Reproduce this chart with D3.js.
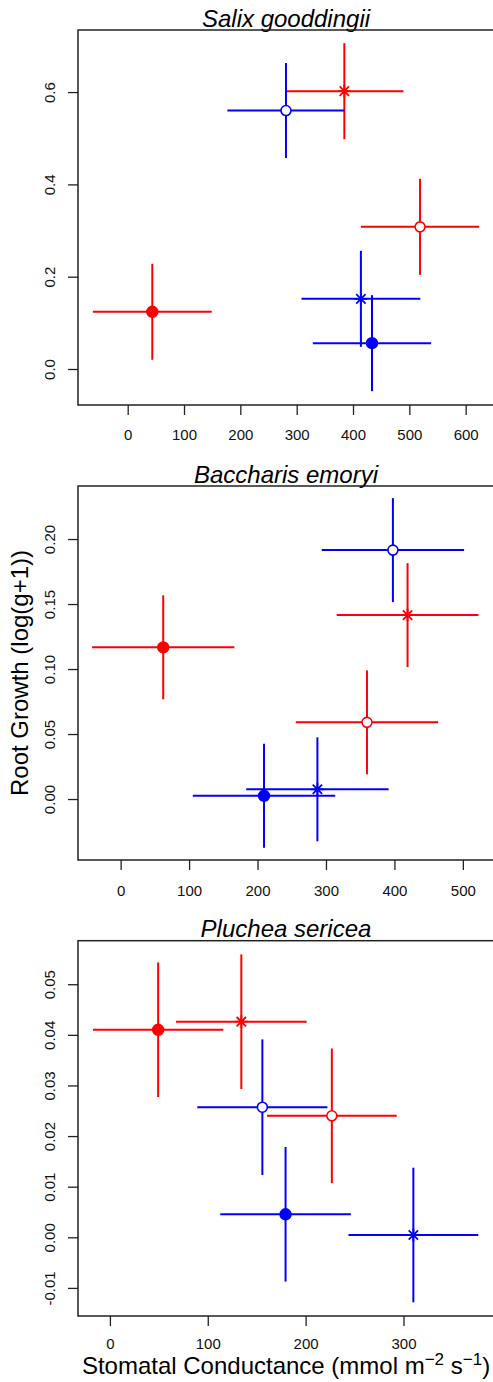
<!DOCTYPE html>
<html>
<head>
<meta charset="utf-8">
<script src="https://cdn.jsdelivr.net/npm/d3@7"></script>
<style>
    body { margin: 0; background: #fff; }
    svg { display: block; font-family: 'Liberation Sans', Arial, sans-serif; }
</style>
</head>
<body>
<svg></svg>
<script>

/*
*   Data
*/

// order of the six groups in every panel
const GROUP_COLORS = ['red', 'red', 'red', 'blue', 'blue', 'blue']
const GROUP_SHAPES = ['filled', 'open', 'star', 'filled', 'open', 'star']

const PANEL_TITLES = ['Salix gooddingii', 'Baccharis emoryi', 'Pluchea sericea']

const salixX = [43.7, 519, 384.6, 433.7, 281, 414]
const salixXErr = [105.5, 105, 105, 105, 104, 105.5]
const salixY = [0.124, 0.308, 0.602, 0.056, 0.560, 0.152]
const salixYErr = [0.104, 0.104, 0.104, 0.104, 0.103, 0.104]

const baccharisX = [62.2, 359.9, 419.2, 209.5, 397.8, 287.5]
const baccharisXErr = [104, 104, 103.5, 104, 104, 104]
const baccharisY = [0.1167, 0.059, 0.1415, 0.0025, 0.1915, 0.0075]
const baccharisYErr = [0.04, 0.04, 0.04, 0.04, 0.04, 0.04]

const plucheaX = [49.3, 226.8, 134.3, 179.5, 155.8, 310.1]
const plucheaXErr = [66.6, 66.3, 66.7, 66.7, 66.5, 66.3]
const plucheaY = [0.041, 0.024, 0.0426, 0.00455, 0.0257, 0.00045]
const plucheaYErr = [0.0133, 0.0133, 0.0133, 0.0133, 0.0134, 0.0133]

// axis limits and ticks
const salixXLim = [-88.2, 650.3]
const salixYLim = [-0.078, 0.7345]
const salixXTicks = [0, 100, 200, 300, 400, 500, 600]
const salixYTicks = [0, 0.2, 0.4, 0.6]
const salixYLabels = ['0.0', '0.2', '0.4', '0.6']

const baccharisXLim = [-62.3, 545.5]
const baccharisYLim = [-0.0469, 0.2408]
const baccharisXTicks = [0, 100, 200, 300, 400, 500]
const baccharisYTicks = [0, 0.05, 0.10, 0.15, 0.20]
const baccharisYLabels = ['0.00', '0.05', '0.10', '0.15', '0.20']

const plucheaXLim = [-32.6, 392.5]
const plucheaYLim = [-0.01555, 0.0586]
const plucheaXTicks = [0, 100, 200, 300]
const plucheaYTicks = [-0.01, 0, 0.01, 0.02, 0.03, 0.04, 0.05]
const plucheaYLabels = ['-0.01', '0.00', '0.01', '0.02', '0.03', '0.04', '0.05']


/*
*   Constants
*/

const CANVAS_WIDTH = 493
const CANVAS_HEIGHT = 1382
const BOX_LEFT = 78
const BOX_RIGHT = 494
const BOX_TOPS = [30, 486, 940.7]
const BOX_BOTTOMS = [405, 860, 1316]
const X_LABEL_OFFSETS = [35, 35.5, 33]
const TICK_LENGTH = 10
const STAR_SIZE = 6.5
const COLORS = { red: '#ff0000', blue: '#0000ff', axis: '#222' }


/*
*   Builds the panel list from the arrays above.
*/

const panels = [
    { x: salixX, xe: salixXErr, y: salixY, ye: salixYErr, xlim: salixXLim, ylim: salixYLim,
      xticks: salixXTicks, yticks: salixYTicks, ylabels: salixYLabels },
    { x: baccharisX, xe: baccharisXErr, y: baccharisY, ye: baccharisYErr, xlim: baccharisXLim, ylim: baccharisYLim,
      xticks: baccharisXTicks, yticks: baccharisYTicks, ylabels: baccharisYLabels },
    { x: plucheaX, xe: plucheaXErr, y: plucheaY, ye: plucheaYErr, xlim: plucheaXLim, ylim: plucheaYLim,
      xticks: plucheaXTicks, yticks: plucheaYTicks, ylabels: plucheaYLabels },
].map((p, i) => ({
    ...p,
    title: PANEL_TITLES[i],
    top: BOX_TOPS[i],
    bottom: BOX_BOTTOMS[i],
    labelOffset: X_LABEL_OFFSETS[i],
    points: p.x.map((v, j) => ({
        x: v, xe: p.xe[j], y: p.y[j], ye: p.ye[j],
        color: COLORS[GROUP_COLORS[j]], shape: GROUP_SHAPES[j],
    })),
}))


/*
*   Renders one panel.
*/

const renderPanel = (svg, p) => {

    const x = d3.scaleLinear().domain(p.xlim).range([BOX_LEFT, BOX_RIGHT])
    const y = d3.scaleLinear().domain(p.ylim).range([p.bottom, p.top])
    const g = svg.append('g')

    // title
    g.append('text')
    .attr('x', (BOX_LEFT + BOX_RIGHT) / 2)
    .attr('y', p.top - 3.5)
    .attr('text-anchor', 'middle')
    .style('font-size', '24px')
    .style('font-style', 'italic')
    .text(p.title)

    // x axis
    const xAxis = g.append('g')
    .attr('transform', `translate(0,${p.bottom})`)
    .call(d3.axisBottom(x).tickValues(p.xticks).tickSize(TICK_LENGTH).tickSizeOuter(0))
    xAxis.select('.domain').remove()
    xAxis.selectAll('line').attr('stroke', COLORS.axis).attr('stroke-width', 1.3)
    xAxis.selectAll('text').attr('fill', '#111').style('font-size', '15px').attr('dy', null).attr('y', p.labelOffset)

    // y axis
    const yAxis = g.append('g')
    .attr('transform', `translate(${BOX_LEFT},0)`)
    .call(d3.axisLeft(y).tickValues(p.yticks).tickSize(TICK_LENGTH).tickSizeOuter(0))
    yAxis.select('.domain').remove()
    yAxis.selectAll('line').attr('stroke', COLORS.axis).attr('stroke-width', 1.3)
    yAxis.selectAll('text').remove()
    yAxis.selectAll('.tick')
    .append('text')
    .attr('transform', 'translate(-23,0) rotate(-90)')
    .attr('text-anchor', 'middle')
    .attr('fill', '#111')
    .style('font-size', '15px')
    .text((d, i) => p.ylabels[i])

    // box
    g.append('rect')
    .attr('x', BOX_LEFT)
    .attr('y', p.top)
    .attr('width', BOX_RIGHT - BOX_LEFT)
    .attr('height', p.bottom - p.top)
    .attr('fill', 'none')
    .attr('stroke', COLORS.axis)
    .attr('stroke-width', 1.5)

    // error bars
    const bars = g.append('g').selectAll('g').data(p.points).join('g')
    bars.append('line')
    .attr('x1', d => x(d.x - d.xe)).attr('x2', d => x(d.x + d.xe))
    .attr('y1', d => y(d.y)).attr('y2', d => y(d.y))
    .attr('stroke', d => d.color).attr('stroke-width', 2)
    bars.append('line')
    .attr('x1', d => x(d.x)).attr('x2', d => x(d.x))
    .attr('y1', d => y(d.y - d.ye)).attr('y2', d => y(d.y + d.ye))
    .attr('stroke', d => d.color).attr('stroke-width', 2)

    // markers
    const marks = g.append('g').selectAll('g').data(p.points).join('g')
    .attr('transform', d => `translate(${x(d.x)},${y(d.y)})`)

    marks.filter(d => d.shape !== 'star')
    .append('circle')
    .attr('r', d => d.shape === 'filled' ? 5.4 : 5)
    .attr('fill', d => d.shape === 'filled' ? d.color : '#fff')
    .attr('stroke', d => d.color)
    .attr('stroke-width', 1.6)

    const s = STAR_SIZE, k = STAR_SIZE * .72
    marks.filter(d => d.shape === 'star')
    .append('path')
    .attr('d', `M${-s},0H${s}M0,${-s}V${s}M${-k},${-k}L${k},${k}M${-k},${k}L${k},${-k}`)
    .attr('stroke', d => d.color)
    .attr('stroke-width', 1.8)
    .attr('fill', 'none')

}


/*
*   Execution entry point.
*/

const svg = d3.select('svg')
.attr('width', CANVAS_WIDTH)
.attr('height', CANVAS_HEIGHT)

panels.forEach(p => renderPanel(svg, p))

// shared axis titles
svg.append('text')
.attr('transform', `translate(28,${(BOX_TOPS[1] + BOX_BOTTOMS[1]) / 2}) rotate(-90)`)
.attr('text-anchor', 'middle')
.style('font-size', '24px')
.text('Root Growth (log(g+1))')

const xTitle = svg.append('text')
.attr('x', (BOX_LEFT + BOX_RIGHT) / 2)
.attr('y', 1374)
.attr('text-anchor', 'middle')
.style('font-size', '24px')
xTitle.append('tspan').text('Stomatal Conductance (mmol m')
xTitle.append('tspan').attr('dy', -9).style('font-size', '17px').text('\u22122')
xTitle.append('tspan').attr('dy', 9).text(' s')
xTitle.append('tspan').attr('dy', -9).style('font-size', '17px').text('\u22121')
xTitle.append('tspan').attr('dy', 9).text(')')

</script>
</body>
</html>
